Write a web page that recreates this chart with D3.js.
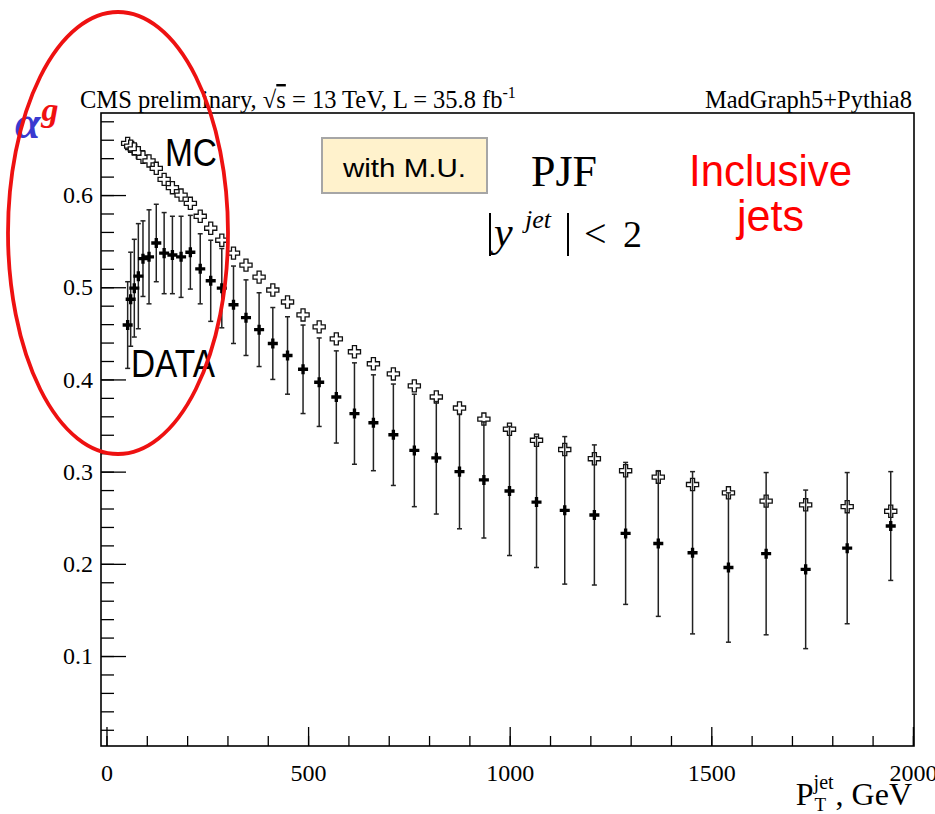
<!DOCTYPE html>
<html lang="en">
<head>
<meta charset="UTF-8">
<script src="https://cdnjs.cloudflare.com/ajax/libs/d3/7.8.5/d3.min.js"></script>
<title>alpha g vs jet pT</title>
<style>
  body { margin: 0; background: #fff; }
  svg { display: block; }
</style>
</head>
<body>
<div id="draw-here"></div>
<script>
/* bin centres of the jet pT bins, GeV */
var ptCentres = [52.5, 60, 69, 79, 90.5, 105.5, 123.5, 143, 163.5, 185, 208, 232.5, 258.5, 286,
  315, 346, 378.5, 412.5, 449, 487.5, 527.5, 570, 615, 662, 711.5, 763.5, 818, 875.5, 936,
  999.5, 1066.5, 1136.5, 1210, 1287.5, 1368.5, 1453.5, 1542.5, 1636, 1734, 1837, 1945];

/* MC (open crosses) */
var mcValues = [0.656, 0.653, 0.650, 0.646, 0.641, 0.637, 0.629, 0.617, 0.608, 0.600,
  0.591, 0.577, 0.564, 0.551, 0.537, 0.524, 0.511, 0.497, 0.484, 0.470,
  0.457, 0.444, 0.430, 0.417, 0.406, 0.393, 0.381, 0.369, 0.357, 0.346,
  0.334, 0.324, 0.314, 0.301, 0.294, 0.286, 0.277, 0.268, 0.264, 0.262, 0.257];

/* DATA (full crosses) and their errors */
var dataValues = [0.459, 0.487, 0.499, 0.512, 0.531, 0.533, 0.548, 0.537, 0.535, 0.533,
  0.538, 0.520, 0.507, 0.499, 0.481, 0.467, 0.454, 0.439, 0.426, 0.411,
  0.397, 0.381, 0.363, 0.353, 0.340, 0.323, 0.315, 0.300, 0.291, 0.279,
  0.267, 0.258, 0.253, 0.233, 0.222, 0.212, 0.196, 0.211, 0.194, 0.217, 0.241];
var dataErrors = [0.047, 0.051, 0.053, 0.057, 0.041, 0.051, 0.042, 0.044, 0.042, 0.044,
  0.040, 0.038, 0.044, 0.043, 0.042, 0.041, 0.040, 0.039, 0.042, 0.048,
  0.048, 0.050, 0.055, 0.052, 0.055, 0.061, 0.061, 0.062, 0.063, 0.070,
  0.071, 0.080, 0.076, 0.077, 0.079, 0.088, 0.081, 0.088, 0.086, 0.082, 0.059];

/* axis ranges and ticks */
var xRange = [-13.6, 2002.7];
var yRange = [0.0024, 0.689];
var xMajor = [0, 500, 1000, 1500, 2000];
var yMajor = [0.1, 0.2, 0.3, 0.4, 0.5, 0.6];

/* frame of the pad (names avoid window.top etc) */
var W = 935, H = 814;
var padL = 101, padR = 914, padT = 113, padB = 746;

var svg = d3.select("#draw-here").append("svg")
  .attr("width", W).attr("height", H);

var x = d3.scaleLinear().domain(xRange).range([padL, padR]);
var y = d3.scaleLinear().domain(yRange).range([padB, padT]);

var serif = "'Liberation Serif', 'Times New Roman', serif";
var sans = "'Liberation Sans', Arial, sans-serif";

/* frame */
svg.append("rect")
  .attr("x", padL).attr("y", padT)
  .attr("width", padR - padL).attr("height", padB - padT)
  .attr("fill", "none").attr("stroke", "#000").attr("stroke-width", 1.6);

/* x axis: minor ticks then major with labels */
var xMinorAxis = d3.axisBottom(x).tickValues(d3.range(0, 2001, 100))
  .tickSize(-10).tickFormat("");
var xMajorAxis = d3.axisBottom(x).tickValues(xMajor)
  .tickSize(-19).tickPadding(18).tickFormat(d3.format("d"));

svg.append("g").attr("transform", "translate(0," + padB + ")").call(xMinorAxis);
svg.append("g").attr("transform", "translate(0," + padB + ")").call(xMajorAxis);

/* y axis */
var yMinorAxis = d3.axisLeft(y).tickValues(d3.range(0.02, 0.689, 0.02))
  .tickSize(-13).tickFormat("");
var yMajorAxis = d3.axisLeft(y).tickValues(yMajor)
  .tickSize(-25).tickPadding(8).tickFormat(d3.format(".1f"));

svg.append("g").attr("transform", "translate(" + padL + ",0)").call(yMinorAxis);
svg.append("g").attr("transform", "translate(" + padL + ",0)").call(yMajorAxis);

svg.selectAll(".domain").remove();
svg.selectAll(".tick line").attr("stroke", "#000").attr("stroke-width", 1.3);
svg.selectAll(".tick text")
  .attr("fill", "#000")
  .style("font-family", serif)
  .style("font-size", "24px");

/* MC: open crosses */
var openCross = d3.symbol().type(d3.symbolCross).size(82);
svg.append("g").selectAll("path")
  .data(mcValues)
  .join("path")
  .attr("d", openCross)
  .attr("transform", function(d, i) { return "translate(" + x(ptCentres[i]) + "," + y(d) + ")"; })
  .attr("fill", "#fff")
  .attr("stroke", "#111")
  .attr("stroke-width", 1.3);

/* DATA: error bars */
var bars = svg.append("g").selectAll("g")
  .data(dataValues)
  .join("g")
  .attr("stroke", "#222")
  .attr("stroke-width", 1.5);

bars.append("line")
  .attr("x1", function(d, i) { return x(ptCentres[i]); })
  .attr("x2", function(d, i) { return x(ptCentres[i]); })
  .attr("y1", function(d, i) { return y(d - dataErrors[i]); })
  .attr("y2", function(d, i) { return y(d + dataErrors[i]); });

bars.selectAll(".cap")
  .data(function(d, i) { return [[i, d - dataErrors[i]], [i, d + dataErrors[i]]]; })
  .join("line")
  .attr("class", "cap")
  .attr("x1", function(c) { return x(ptCentres[c[0]]) - 2.5; })
  .attr("x2", function(c) { return x(ptCentres[c[0]]) + 2.5; })
  .attr("y1", function(c) { return y(c[1]); })
  .attr("y2", function(c) { return y(c[1]); });

/* DATA: full crosses */
var fullCross = d3.symbol().type(d3.symbolCross).size(56);
svg.append("g").selectAll("path")
  .data(dataValues)
  .join("path")
  .attr("d", fullCross)
  .attr("transform", function(d, i) { return "translate(" + x(ptCentres[i]) + "," + y(d) + ")"; })
  .attr("fill", "#000");

/* header texts */
var title = svg.append("text")
  .attr("x", 80).attr("y", 108)
  .style("font-family", serif).style("font-size", "24.5px");
title.append("tspan").text("CMS preliminary, \u221A");
title.append("tspan").text("s").style("text-decoration", "overline");
title.append("tspan").text(" = 13 TeV, L = 35.8 fb");
title.append("tspan").text("-1").attr("dy", -10).style("font-size", "16px");

svg.append("text")
  .attr("x", 912).attr("y", 108)
  .attr("text-anchor", "end")
  .style("font-family", serif).style("font-size", "24.5px")
  .text("MadGraph5+Pythia8");

/* y title: alpha^g */
var ag = svg.append("text")
  .attr("x", 15).attr("y", 138)
  .style("font-family", serif).style("font-weight", "bold").style("font-style", "italic");
ag.append("tspan").text("\u03B1").attr("fill", "#3a3ad0").style("font-size", "46px");
ag.append("tspan").text("g").attr("fill", "#f01010").attr("dy", -17).attr("dx", 1).style("font-size", "34px");

/* x title: P_T^jet, GeV */
var xt = svg.append("g");
var gev = xt.append("text")
  .attr("x", 912).attr("y", 805).attr("text-anchor", "end")
  .style("font-family", serif).style("font-size", "32px")
  .text(", GeV");
var gevW = gev.node().getComputedTextLength();
var jetX = 912 - gevW - 22;
xt.append("text").attr("x", jetX).attr("y", 789)
  .style("font-family", serif).style("font-size", "20px").text("jet");
xt.append("text").attr("x", jetX + 1).attr("y", 811)
  .style("font-family", serif).style("font-size", "19px").text("T");
xt.append("text").attr("x", jetX).attr("y", 805).attr("text-anchor", "end")
  .style("font-family", serif).style("font-size", "32px").text("P");

/* annotations */
svg.append("text").attr("x", 165).attr("y", 166)
  .attr("textLength", 52).attr("lengthAdjust", "spacingAndGlyphs")
  .style("font-family", sans).style("font-size", "38px").text("MC");
svg.append("text").attr("x", 131).attr("y", 377)
  .attr("textLength", 84).attr("lengthAdjust", "spacingAndGlyphs")
  .style("font-family", sans).style("font-size", "39px").text("DATA");

svg.append("rect")
  .attr("x", 322).attr("y", 138).attr("width", 165).attr("height", 55)
  .attr("fill", "#fff2cc").attr("stroke", "#a6a6a6").attr("stroke-width", 2);
svg.append("text").attr("x", 343).attr("y", 177)
  .attr("textLength", 123).attr("lengthAdjust", "spacingAndGlyphs")
  .style("font-family", sans).style("font-size", "26px").text("with M.U.");

svg.append("text").attr("x", 531).attr("y", 186)
  .style("font-family", serif).style("font-size", "44px").text("PJF");

/* |y^jet| < 2 */
var rap = svg.append("g").style("font-family", serif);
rap.append("line").attr("x1", 490).attr("x2", 490).attr("y1", 213).attr("y2", 256)
  .attr("stroke", "#000").attr("stroke-width", 2);
rap.append("text").attr("x", 494).attr("y", 246)
  .style("font-size", "42px").style("font-style", "italic").text("y");
rap.append("text").attr("x", 525).attr("y", 228)
  .style("font-size", "26px").style("font-style", "italic").text("jet");
rap.append("line").attr("x1", 568).attr("x2", 568).attr("y1", 213).attr("y2", 256)
  .attr("stroke", "#000").attr("stroke-width", 2);
rap.append("text").attr("x", 584).attr("y", 247)
  .style("font-size", "40px").text("<");
rap.append("text").attr("x", 623).attr("y", 247)
  .style("font-size", "38px").text("2");

svg.append("text").attr("x", 689).attr("y", 186)
  .attr("textLength", 163).attr("lengthAdjust", "spacingAndGlyphs")
  .attr("fill", "#ff0000")
  .style("font-family", sans).style("font-size", "44px").text("Inclusive");
svg.append("text").attr("x", 737).attr("y", 231)
  .attr("textLength", 67).attr("lengthAdjust", "spacingAndGlyphs")
  .attr("fill", "#ff0000")
  .style("font-family", sans).style("font-size", "44px").text("jets");

/* red ellipse highlight */
svg.append("ellipse")
  .attr("cx", 118).attr("cy", 233).attr("rx", 110).attr("ry", 221)
  .attr("fill", "none").attr("stroke", "#ee1111").attr("stroke-width", 3.8);
</script>
</body>
</html>
